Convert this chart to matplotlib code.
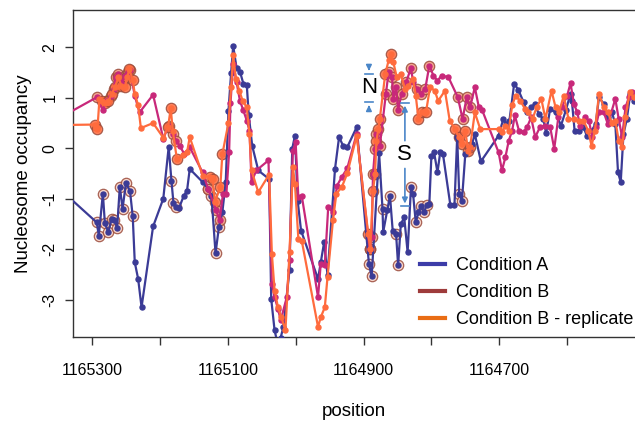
import matplotlib
matplotlib.use("Agg")
import matplotlib.pyplot as plt
from matplotlib.lines import Line2D
import numpy as np

plt.rcParams['font.family'] = ['Liberation Sans', 'DejaVu Sans']
plt.rcParams['axes.unicode_minus'] = False

# Condition A
pos_a = [1165348, 1165293, 1165290, 1165284, 1165281, 1165276, 1165271, 1165267, 1165263, 1165259,
         1165255, 1165250, 1165244, 1165240, 1165237, 1165232, 1165227, 1165210, 1165195, 1165187,
         1165183, 1165180, 1165176, 1165172, 1165165, 1165160, 1165156, 1165137, 1165129, 1165124,
         1165118, 1165113, 1165108, 1165103, 1165099, 1165095, 1165092, 1165087, 1165082, 1165077,
         1165072, 1165069, 1165064, 1165055, 1165039, 1165036, 1165031, 1165026, 1165022, 1165018,
         1165009, 1165005, 1165001, 1164997, 1164992, 1164967, 1164963, 1164958, 1164953, 1164942,
         1164936, 1164930, 1164924, 1164910, 1164892, 1164888, 1164877, 1164872, 1164871, 1164865,
         1164861, 1164857, 1164852, 1164849, 1164845, 1164840, 1164835, 1164830, 1164827, 1164823,
         1164819, 1164816, 1164811, 1164807, 1164803, 1164800, 1164796, 1164791, 1164787, 1164783,
         1164772, 1164766, 1164762, 1164759, 1164755, 1164750, 1164745, 1164740, 1164736, 1164727,
         1164701, 1164694, 1164690, 1164685, 1164678, 1164672, 1164664, 1164659, 1164653, 1164647,
         1164642, 1164635, 1164631, 1164625, 1164617, 1164609, 1164602, 1164595, 1164593, 1164589,
         1164583, 1164576, 1164571, 1164564, 1164558, 1164553, 1164546, 1164540, 1164534, 1164529,
         1164525, 1164521, 1164517, 1164512, 1164507, 1164502, 1164490]
occ_a = [-0.80, -1.47, -1.73, -0.90, -1.49, -1.66, -1.40, -1.43, -1.58, -0.76,
         -1.20, -0.69, -0.85, -1.35, -2.26, -2.59, -3.15, -1.55, -1.00, 0.03,
         -0.64, -1.08, -1.17, -1.19, -0.95, -0.84, -0.41, -0.67, -0.80, -0.95,
         -2.08, -1.56, -1.27, -0.67, 0.73, 1.50, 2.03, 1.59, 1.52, 1.28,
         1.26, 0.65, 0.05, -0.44, -0.61, -2.98, -3.61, -3.90, -3.75, -3.54,
         -2.41, -0.01, 0.25, -1.04, -1.63, -2.59, -2.26, -1.86, -2.52, -0.41,
         0.22, 0.05, 0.02, 0.42, -2.29, -2.54, -0.10, -1.20, -1.66, -1.23,
         -0.94, -1.63, -1.70, -2.32, -1.50, -1.37, -2.06, -0.76, -0.90, -1.47,
         -1.27, -1.15, -1.27, -1.13, -1.10, -0.16, -0.08, -0.48, -0.08, -0.11,
         -1.13, -1.13, 0.22, -0.90, -1.04, -0.11, -0.01, 0.09, 0.28, -0.26,
         0.25, 0.58, 0.48, 0.55, 1.28, 1.16, 0.91, 0.71, 0.81, 0.88,
         0.68, 0.58, 0.30, 0.78, 0.71, 0.45, 0.75, 1.08, 0.94, 0.35,
         0.35, 0.42, 0.25, 0.35, 0.48, 1.01, 0.88, 0.61, 0.71, 0.48,
         -0.48, -0.67, 0.28, 0.58, 1.08, 0.94, 0.80]
sig_a = [0, 1, 1, 1, 1, 1, 1, 1, 1, 1,
         1, 1, 1, 1, 0, 0, 0, 0, 0, 0,
         1, 1, 1, 0, 0, 0, 0, 0, 1, 1,
         1, 1, 0, 0, 0, 0, 0, 0, 0, 0,
         0, 0, 0, 0, 0, 0, 0, 0, 0, 0,
         0, 0, 0, 0, 0, 0, 0, 0, 0, 0,
         0, 0, 0, 0, 1, 1, 0, 1, 0, 0,
         1, 0, 1, 1, 0, 0, 0, 1, 0, 1,
         0, 1, 1, 1, 0, 0, 0, 0, 0, 0,
         0, 0, 0, 1, 1, 0, 0, 0, 0, 0,
         0, 0, 0, 0, 0, 0, 0, 0, 0, 0,
         0, 0, 0, 0, 0, 0, 0, 0, 0, 0,
         0, 0, 0, 0, 0, 0, 0, 0, 0, 0,
         0, 0, 0, 0, 0, 0, 0]

# Condition B
pos_b = [1165348, 1165293, 1165284, 1165279, 1165272, 1165268, 1165265, 1165261, 1165256, 1165252,
         1165247, 1165244, 1165237, 1165230, 1165210, 1165195, 1165187, 1165181, 1165176, 1165171,
         1165164, 1165156, 1165137, 1165129, 1165117, 1165112, 1165107, 1165102, 1165098, 1165096,
         1165092, 1165087, 1165082, 1165077, 1165072, 1165068, 1165065, 1165058, 1165040, 1165035,
         1165031, 1165026, 1165022, 1165013, 1165009, 1165004, 1165000, 1164996, 1164991, 1164967,
         1164963, 1164957, 1164952, 1164945, 1164939, 1164932, 1164924, 1164910, 1164891, 1164888,
         1164886, 1164883, 1164881, 1164876, 1164867, 1164863, 1164858, 1164856, 1164852, 1164849,
         1164844, 1164837, 1164830, 1164827, 1164821, 1164816, 1164809, 1164803, 1164797, 1164791,
         1164785, 1164775, 1164761, 1164754, 1164748, 1164743, 1164736, 1164730, 1164725, 1164701,
         1164696, 1164691, 1164686, 1164681, 1164677, 1164671, 1164664, 1164659, 1164653, 1164647,
         1164640, 1164632, 1164625, 1164619, 1164613, 1164608, 1164600, 1164595, 1164590, 1164585,
         1164581, 1164574, 1164568, 1164563, 1164558, 1164553, 1164546, 1164540, 1164529, 1164524,
         1164519, 1164514, 1164509, 1164504, 1164490]
occ_b = [0.60, 1.01, 0.75, 0.94, 1.04, 1.18, 1.41, 1.47, 1.27, 1.44,
         1.51, 1.55, 1.04, 0.71, 1.06, 0.19, 0.45, 0.28, 0.15, 0.05,
         -0.11, 0.02, -0.48, -0.80, -1.23, -1.43, -0.90, -0.90, -0.08, 0.89,
         1.67, 1.31, 0.94, 0.75, 0.55, 0.35, -0.67, -0.44, -0.24, -2.69,
         -2.95, -3.18, -3.41, -2.95, -2.22, -0.05, 0.12, -0.97, -0.94, -2.95,
         -2.29, -2.32, -1.17, -1.27, -0.74, -0.57, -0.40, 0.29, -1.99, -1.76,
         -0.51, -0.01, 0.29, 0.05, 1.08, 1.51, 1.41, 0.98, 1.21, 0.75,
         1.08, 1.31, 1.60, 1.31, 1.18, 1.08, 1.18, 1.64, 1.44, 1.34,
         1.44, 1.41, 1.01, 0.58, 1.01, 0.81, 1.21, 0.81, 0.75, -0.08,
         -0.44, -0.18, 0.15, 0.35, 0.65, 0.35, 0.32, 0.42, 0.61, 0.22,
         0.42, 0.45, 0.42, -0.01, 0.61, 0.81, 1.04, 1.29, 0.88, 0.71,
         0.45, 0.61, 0.55, 0.22, 0.42, 0.71, 0.71, 0.48, 0.98, 0.58,
         0.22, 0.81, 1.01, 1.11, 0.85]
sig_b = [0, 1, 0, 1, 1, 1, 1, 1, 1, 1,
         1, 1, 0, 0, 0, 0, 1, 1, 1, 0,
         0, 0, 0, 1, 1, 1, 0, 0, 0, 0,
         0, 0, 0, 0, 0, 0, 0, 0, 0, 0,
         0, 0, 0, 0, 0, 0, 0, 0, 0, 0,
         0, 0, 0, 0, 0, 0, 0, 0, 1, 1,
         1, 1, 1, 1, 1, 1, 1, 1, 1, 1,
         1, 1, 1, 0, 1, 1, 1, 1, 0, 0,
         0, 0, 1, 1, 1, 1, 0, 0, 0, 0,
         0, 0, 0, 0, 0, 0, 0, 0, 0, 0,
         0, 0, 0, 0, 0, 0, 0, 0, 0, 0,
         0, 0, 0, 0, 0, 0, 0, 0, 0, 0,
         0, 0, 0, 0, 0]

# Condition B - replicate
pos_r = [1165348, 1165295, 1165292, 1165289, 1165285, 1165281, 1165276, 1165271, 1165266, 1165261,
         1165257, 1165252, 1165248, 1165245, 1165240, 1165237, 1165232, 1165228, 1165210, 1165195,
         1165188, 1165184, 1165181, 1165175, 1165166, 1165160, 1165156, 1165137, 1165126, 1165122,
         1165119, 1165111, 1165108, 1165099, 1165095, 1165092, 1165088, 1165083, 1165078, 1165072,
         1165068, 1165065, 1165055, 1165039, 1165035, 1165031, 1165026, 1165021, 1165015, 1165009,
         1165004, 1165001, 1164996, 1164991, 1164967, 1164963, 1164957, 1164953, 1164945, 1164940,
         1164932, 1164924, 1164910, 1164893, 1164890, 1164886, 1164883, 1164881, 1164878, 1164876,
         1164868, 1164863, 1164860, 1164856, 1164851, 1164845, 1164839, 1164834, 1164827, 1164823,
         1164819, 1164814, 1164808, 1164802, 1164795, 1164790, 1164780, 1164773, 1164765, 1164760,
         1164755, 1164750, 1164746, 1164743, 1164736, 1164728, 1164701, 1164696, 1164691, 1164686,
         1164681, 1164676, 1164669, 1164662, 1164657, 1164651, 1164645, 1164638, 1164632, 1164623,
         1164617, 1164612, 1164605, 1164598, 1164590, 1164583, 1164576, 1164569, 1164564, 1164559,
         1164553, 1164546, 1164540, 1164534, 1164529, 1164524, 1164519, 1164514, 1164508, 1164502,
         1164490]
occ_r = [0.46, 0.47, 0.38, 0.98, 0.94, 0.89, 0.93, 1.08, 1.22, 1.41,
         1.24, 1.21, 1.41, 1.57, 1.35, 1.08, 0.85, 0.40, 0.50, 0.21,
         0.42, 0.79, 0.35, -0.21, -0.14, -0.08, 0.22, -0.54, -0.57, -0.61,
         -1.07, -0.77, -0.12, 0.50, 1.21, 1.84, 1.37, 1.14, 0.94, 0.81,
         0.29, -0.44, -0.87, -0.52, -2.09, -2.82, -3.15, -3.35, -3.61, -2.06,
         -0.38, -0.71, -1.79, -1.83, -3.54, -3.35, -3.15, -2.55, -1.43, -0.90,
         -0.77, -0.50, 0.25, -1.70, -1.99, -0.84, -0.51, 0.15, 0.38, 0.58,
         1.47, 1.74, 1.87, 1.70, 1.41, 1.47, 1.18, 1.24, 1.37, 1.04,
         0.58, 0.71, 0.71, 1.21, 1.14, 0.94, 1.14, 0.55, 0.38, 0.22,
         0.09, 0.35, -0.05, 0.02, 0.71, 0.38, 0.38, 0.32, 0.45, 0.35,
         0.85, 1.04, 0.94, 0.78, 0.71, 0.58, 0.81, 0.98, 0.58, 1.14,
         0.81, 0.71, 1.04, 0.58, 0.58, 0.55, 0.55, 0.35, 0.05, 0.35,
         1.08, 0.81, 0.71, 0.51, 0.55, 0.15, 0.02, 0.61, 1.11, 1.01,
         0.80]
sig_r = [0, 1, 1, 0, 1, 1, 1, 1, 1, 1,
         1, 1, 1, 1, 1, 0, 0, 0, 0, 0,
         1, 1, 0, 1, 0, 0, 0, 0, 1, 1,
         1, 1, 1, 0, 0, 0, 0, 0, 0, 0,
         0, 0, 0, 0, 0, 0, 0, 0, 0, 0,
         0, 0, 0, 0, 0, 0, 0, 0, 0, 0,
         0, 0, 0, 1, 1, 1, 1, 1, 1, 1,
         1, 0, 1, 0, 0, 0, 0, 0, 0, 0,
         1, 1, 1, 0, 0, 0, 0, 0, 1, 1,
         1, 1, 1, 1, 0, 0, 0, 0, 0, 0,
         0, 0, 0, 0, 0, 0, 0, 0, 0, 0,
         0, 0, 0, 0, 0, 0, 0, 0, 0, 0,
         0, 0, 0, 0, 0, 0, 0, 0, 0, 0,
         0]

labels = ['Condition A', 'Condition B', 'Condition B - replicate']
line_colors = ['#3b3b96', '#c8287a', '#ff6b3d']
ring_faces = ['#f6cfc2', '#f2987c', '#ff6b3d']
legend_colors = ['#3c3ca8', '#9e3b3b', '#e96d14']
ring_edge = '#9a4a3a'

fig = plt.figure(figsize=(6.35, 4.23), dpi=100)
ax = fig.add_axes([73 / 635, 86 / 423, 1 - 73 / 635, 327 / 423])

series = [(pos_a, occ_a, sig_a), (pos_b, occ_b, sig_b), (pos_r, occ_r, sig_r)]
for (p, v, s), lc, rf in zip(series, line_colors, ring_faces):
    p = np.array(p)
    v = np.array(v)
    s = np.array(s, dtype=bool)
    ax.plot(p[s], v[s], 'o', ms=7.5, mfc=rf, mec=ring_edge, mew=0.9, alpha=0.85, zorder=2)
    ax.plot(p, v, '-o', color=lc, lw=1.6, ms=3.6, zorder=3)

ax.set_xlim(1165328, 1164500)
ax.set_ylim(-3.74, 2.74)

# N / S annotations
ann_col = '#4a86c8'
nx, n_top, n_bot = 1164892, 1.48, 0.91
ax.annotate('', xy=(nx, n_top), xytext=(nx, n_top + 0.17),
            arrowprops=dict(arrowstyle='-|>', color=ann_col, lw=1.2, mutation_scale=8), zorder=5)
ax.annotate('', xy=(nx, n_bot), xytext=(nx, n_bot - 0.17),
            arrowprops=dict(arrowstyle='-|>', color=ann_col, lw=1.2, mutation_scale=8), zorder=5)
for yb in (n_top, n_bot):
    ax.plot([nx + 6, nx - 6], [yb, yb], color=ann_col, lw=1.2, zorder=5)
ax.text(nx, (n_top + n_bot) / 2, 'N', ha='center', va='center', fontsize=16, zorder=6)

sx, s_top, s_bot = 1164839, 0.90, -1.15
s_mid = (s_top + s_bot) / 2
ax.annotate('', xy=(sx, s_top), xytext=(sx, s_mid + 0.22),
            arrowprops=dict(arrowstyle='-|>', color=ann_col, lw=1.2, mutation_scale=8), zorder=5)
ax.annotate('', xy=(sx, s_bot), xytext=(sx, s_mid - 0.22),
            arrowprops=dict(arrowstyle='-|>', color=ann_col, lw=1.2, mutation_scale=8), zorder=5)
for yb in (s_top, s_bot):
    ax.plot([sx + 6, sx - 6], [yb, yb], color=ann_col, lw=1.2, zorder=5)
ax.text(sx, s_mid, 'S', ha='center', va='center', fontsize=16, zorder=6)

# axes styling
ax.spines['right'].set_visible(False)
for sp in ('left', 'top', 'bottom'):
    ax.spines[sp].set_color('#333333')
    ax.spines[sp].set_linewidth(1.0)

xt = [1165300, 1165200, 1165100, 1165000, 1164900, 1164800, 1164700, 1164600]
ax.set_xticks(xt)
ax.set_xticklabels([str(t) if i % 2 == 0 else '' for i, t in enumerate(xt)], fontsize=11.5)
ax.set_yticks([-3, -2, -1, 0, 1, 2])
ax.set_yticklabels(['-3', '-2', '-1', '0', '1', '2'], fontsize=11.5, rotation=90, va='center')
ax.tick_params(axis='x', length=6, width=1, color='#333333', pad=13)
ax.tick_params(axis='y', length=6, width=1, color='#333333', pad=5)
ax.set_xlabel('position', fontsize=13.5, labelpad=18)
ax.set_ylabel('Nucleosome occupancy', fontsize=13.5, labelpad=8)

handles = [Line2D([], [], color=c, lw=3) for c in legend_colors]
ax.legend(handles, labels, loc='upper left', bbox_to_anchor=(420 / 635, 1 - 257 / 423),
          bbox_transform=fig.transFigure, frameon=False, fontsize=13, handlelength=1.4,
          handletextpad=0.6, labelspacing=0.55, borderaxespad=0, borderpad=0)

fig.savefig('out.png', dpi=100)
